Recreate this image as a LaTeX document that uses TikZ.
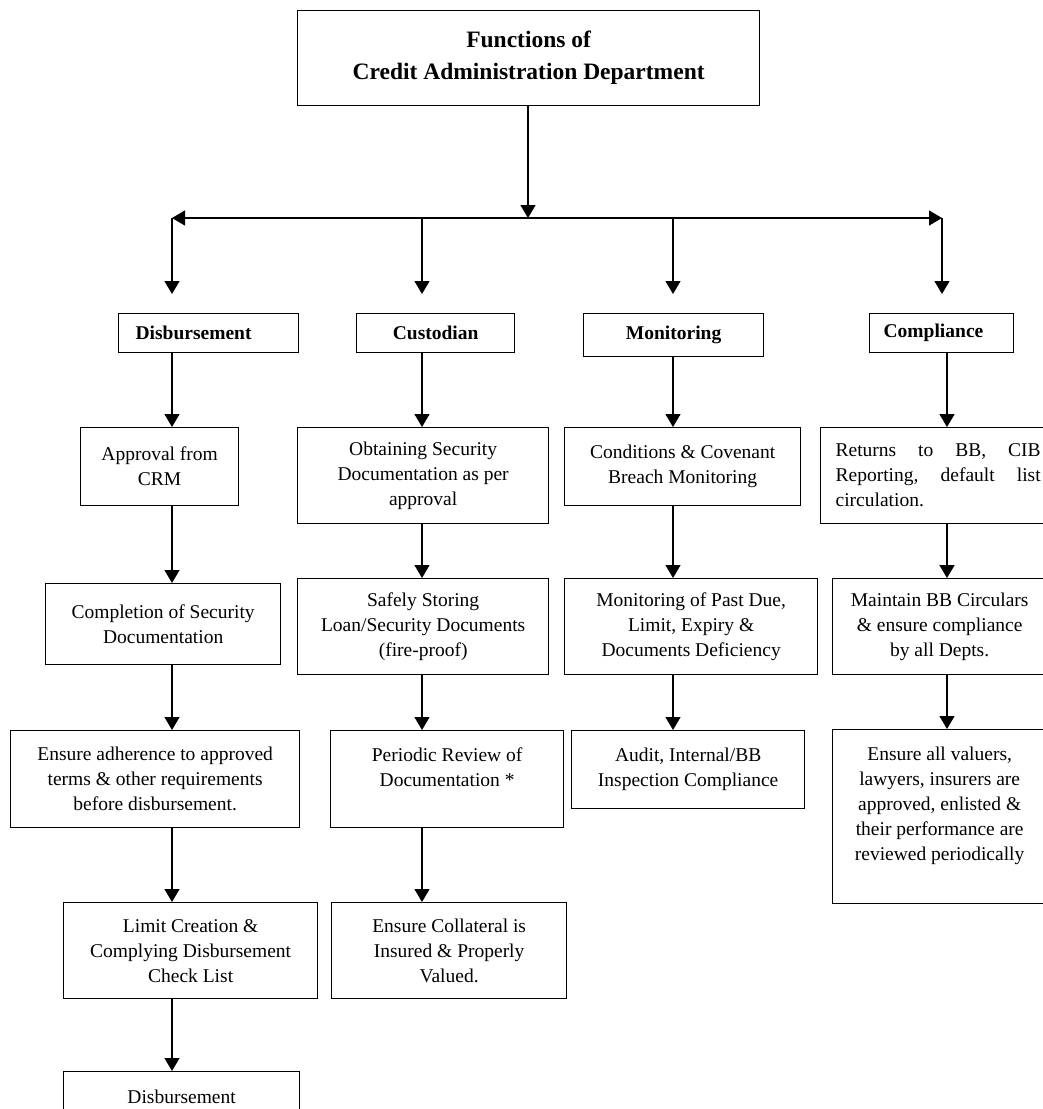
\documentclass[tikz,border=0pt]{standalone}
\usepackage{fontspec}
\setmainfont{Liberation Serif}
\usetikzlibrary{arrows.meta}
\begin{document}
\begin{tikzpicture}[x=1pt,y=-1pt,
  box/.style={draw, line width=1.3pt, anchor=north west, inner sep=0pt, align=center,
    font=\fontsize{19.5}{25}\selectfont},
  head/.style={box, font=\bfseries\fontsize{19.5}{22}\selectfont},
  arr/.style={line width=1.3pt, -{Triangle[width=15pt,length=13pt]}},
  conn/.style={line width=1.3pt}]
\useasboundingbox (0,0) rectangle (1043,1109);
\fill[white] (0,0) rectangle (1043,1109);
\clip (0,0) rectangle (1043,1109);

% title
\node[box, minimum width=462, minimum height=95,
  font=\bfseries\fontsize{23.5}{32}\selectfont] (title) at (297,10)
  {Functions of\\Credit Administration Department};

% header row
\node[head, minimum height=39, inner xsep=17pt, text width=146pt, align=left] (disb) at (118,313) {Disbursement};
\node[head, minimum width=158, minimum height=39] (cust) at (356,313) {Custodian};
\node[head, minimum width=180, minimum height=43] (mon) at (583,313) {Monitoring};
\node[head, minimum height=39, inner xsep=14pt, text width=116pt, align=left] (comp) at (869,313) {Compliance};

% row 2
\node[box, minimum width=158, minimum height=78] (appr) at (80,427) {Approval from\\CRM};
\node[box, minimum width=251, minimum height=96] (obt) at (297,427) {Obtaining Security\\Documentation as per\\approval};
\node[box, minimum width=236, minimum height=78] (cond) at (564,427) {Conditions \& Covenant\\Breach Monitoring};
\node[box, minimum height=96, inner xsep=15pt, text width=205pt, align=left] (ret) at (820,427)
  {\leavevmode\hbox to 205pt{Returns\hfill to\hfill BB,\hfill CIB}\\\leavevmode\hbox to 205pt{Reporting,\hfill default\hfill list}\\circulation.};

% row 3
\node[box, minimum width=235, minimum height=81] (compl) at (45,583) {Completion of Security\\Documentation};
\node[box, minimum width=251, minimum height=96] (safe) at (297,578) {Safely Storing\\Loan/Security Documents\\(fire-proof)};
\node[box, minimum width=253, minimum height=96] (mpd) at (564,578) {Monitoring of Past Due,\\Limit, Expiry \&\\Documents Deficiency};
\node[box, minimum width=214, minimum height=96] (mbb) at (832,578) {Maintain BB Circulars\\\& ensure compliance\\by all Depts.};

% row 4
\node[box, minimum width=289, minimum height=97] (ens) at (10,730) {Ensure adherence to approved\\terms \& other requirements\\before disbursement.};
\node[box, minimum width=233, minimum height=97] (per) at (330,730) {Periodic Review of\\Documentation *\\\mbox{}};
\node[box, minimum width=233, minimum height=78] (aud) at (571,730) {Audit, Internal/BB\\Inspection Compliance};
\node[box, minimum width=214, minimum height=174] (val) at (832,729) {Ensure all valuers,\\lawyers, insurers are\\approved, enlisted \&\\their performance are\\reviewed periodically\\\mbox{}};

% row 5
\node[box, minimum width=254, minimum height=96] (lim) at (63,902) {Limit Creation \&\\Complying Disbursement\\Check List};
\node[box, minimum width=235, minimum height=96] (col) at (331,902) {Ensure Collateral is\\Insured \& Properly\\Valued.};

% row 6
\node[box, minimum width=236, minimum height=50] (dis2) at (63,1071) {Disbursement};

% junction coordinates
\coordinate (J) at (528,218);
\coordinate (Lc) at (172,218);
\coordinate (Bc) at (422,218);
\coordinate (Cc) at (673,218);
\coordinate (Rc) at (942,218);
\coordinate (Dc) at (947,218);

% top distribution
\draw[arr] (title.south -| J) -- (J);
\draw[arr] (J) -- (Lc);
\draw[arr] (J) -- (Rc);
\draw[arr, shorten >=19pt] (Lc) -- (Lc |- disb.north);
\draw[arr, shorten >=19pt] (Bc) -- (Bc |- cust.north);
\draw[arr, shorten >=19pt] (Cc) -- (Cc |- mon.north);
\draw[arr, shorten >=19pt] (Rc) -- (Rc |- comp.north);

% disbursement column
\draw[arr] (disb.south -| Lc) -- (appr.north -| Lc);
\draw[arr] (appr.south -| Lc) -- (compl.north -| Lc);
\draw[arr] (compl.south -| Lc) -- (ens.north -| Lc);
\draw[arr] (ens.south -| Lc) -- (lim.north -| Lc);
\draw[arr] (lim.south -| Lc) -- (dis2.north -| Lc);

% custodian column
\draw[arr] (cust.south -| Bc) -- (obt.north -| Bc);
\draw[arr] (obt.south -| Bc) -- (safe.north -| Bc);
\draw[arr] (safe.south -| Bc) -- (per.north -| Bc);
\draw[arr] (per.south -| Bc) -- (col.north -| Bc);

% monitoring column
\draw[arr] (mon.south -| Cc) -- (cond.north -| Cc);
\draw[arr] (cond.south -| Cc) -- (mpd.north -| Cc);
\draw[arr] (mpd.south -| Cc) -- (aud.north -| Cc);

% compliance column
\draw[arr, line width=1.8pt] (comp.south -| Dc) -- (ret.north -| Dc);
\draw[arr, line width=1.8pt] (ret.south -| Dc) -- (mbb.north -| Dc);
\draw[arr] (mbb.south -| Dc) -- (val.north -| Dc);
\end{tikzpicture}
\end{document}
